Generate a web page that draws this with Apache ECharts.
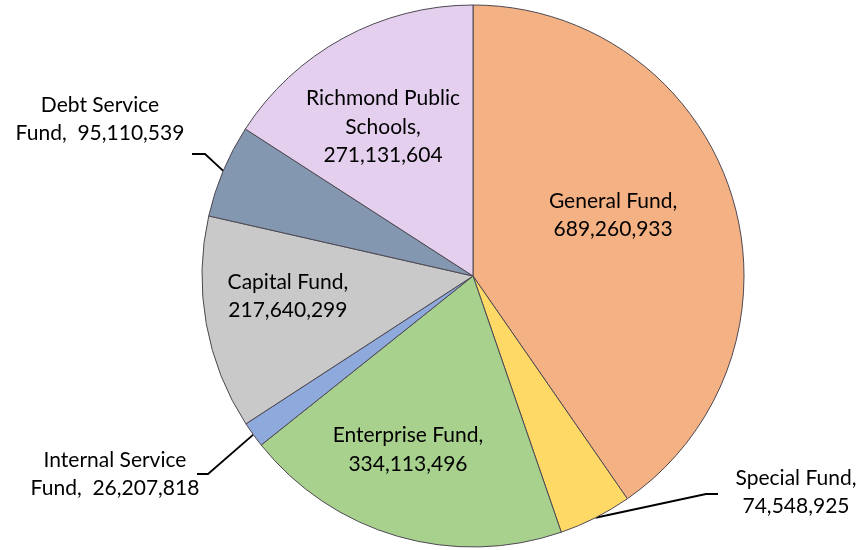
<!DOCTYPE html>
<html>
<head>
<meta charset="utf-8">
<script src="https://cdn.jsdelivr.net/npm/echarts@6/dist/echarts.min.js"></script>
<style>
  html, body { margin: 0; padding: 0; background: #fff; }
  #chart { width: 865px; height: 550px; }
</style>
</head>
<body>
<div id="chart"></div>
<script>
// Fund totals, clockwise from 12 o'clock
const categories = ['General Fund', 'Special Fund', 'Enterprise Fund', 'Internal Service Fund',
                    'Capital Fund', 'Debt Service Fund', 'Richmond Public Schools'];
const values = [689260933, 74548925, 334113496, 26207818, 217640299, 95110539, 271131604];

// How each label's name is wrapped, and what joins it to the value
const labelNames = ['General Fund', 'Special Fund', 'Enterprise Fund', 'Internal Service\nFund',
                    'Capital Fund', 'Debt Service\nFund', 'Richmond Public\nSchools'];
const labelJoins = [',\n', ',\n', ',\n', ',  ', ',\n', ',  ', ',\n'];

const colors = ['#F4B183', '#FFD966', '#A9D18E', '#8EA9DB', '#C9C9C9', '#8497B0', '#E4D0EE'];

// Pie geometry (pixels)
const CX = 473, CY = 276, R = 271;

// Label placement: inside labels as fractions of the radius from the centre;
// outside labels as pixel offsets from the centre, with the leader-line elbow and end.
const placement = [
  { inside: [0.517, -0.225] },
  { text: [323, 216], elbow: [233, 218], end: [245, 218] },
  { inside: [-0.240, 0.642] },
  { text: [-358, 198], elbow: [-265, 198], end: [-276, 198] },
  { inside: [-0.683, 0.074] },
  { text: [-373, -157], elbow: [-268, -122], end: [-281, -122] },
  { inside: [-0.332, -0.550] }
];

const fmt = v => v.toLocaleString('en-US');
const total = values.reduce((a, b) => a + b, 0);

// Mid angle of each slice (radians, clockwise from top)
const midAngles = [];
let acc = 0;
values.forEach(v => {
  midAngles.push((acc + v / 2) / total * Math.PI * 2);
  acc += v;
});

const data = categories.map((name, i) => {
  const outside = !placement[i].inside;
  return {
    name: name,
    value: values[i],
    itemStyle: { color: colors[i] },
    label: { position: outside ? 'outside' : 'inside' },
    labelLine: { show: outside }
  };
});

const chart = echarts.init(document.getElementById('chart'), null, { renderer: 'canvas' });
chart.setOption({
  animation: false,
  series: [{
    type: 'pie',
    center: [CX, CY],
    radius: [0, R],
    startAngle: 90,
    clockwise: true,
    avoidLabelOverlap: false,
    silent: true,
    data: data,
    itemStyle: { borderColor: '#4d4852', borderWidth: 1 },
    label: {
      show: true,
      color: '#000',
      fontFamily: 'Lato, "Open Sans", sans-serif',
      fontSize: 21,
      lineHeight: 28.5,
      align: 'center',
      formatter: p => labelNames[p.dataIndex] + labelJoins[p.dataIndex] + fmt(p.value)
    },
    labelLine: {
      show: true,
      lineStyle: { color: '#000', width: 1.8 }
    },
    labelLayout: function (params) {
      const i = params.dataIndex;
      const pl = placement[i];
      if (pl.inside) {
        return {
          x: CX + pl.inside[0] * R,
          y: CY + pl.inside[1] * R,
          align: 'center',
          verticalAlign: 'middle'
        };
      }
      const a = midAngles[i];
      const edge = [CX + R * Math.sin(a), CY - R * Math.cos(a)];
      return {
        x: CX + pl.text[0],
        y: CY + pl.text[1],
        align: 'center',
        verticalAlign: 'middle',
        labelLinePoints: [
          edge,
          [CX + pl.elbow[0], CY + pl.elbow[1]],
          [CX + pl.end[0], CY + pl.end[1]]
        ]
      };
    }
  }]
});
</script>
</body>
</html>
